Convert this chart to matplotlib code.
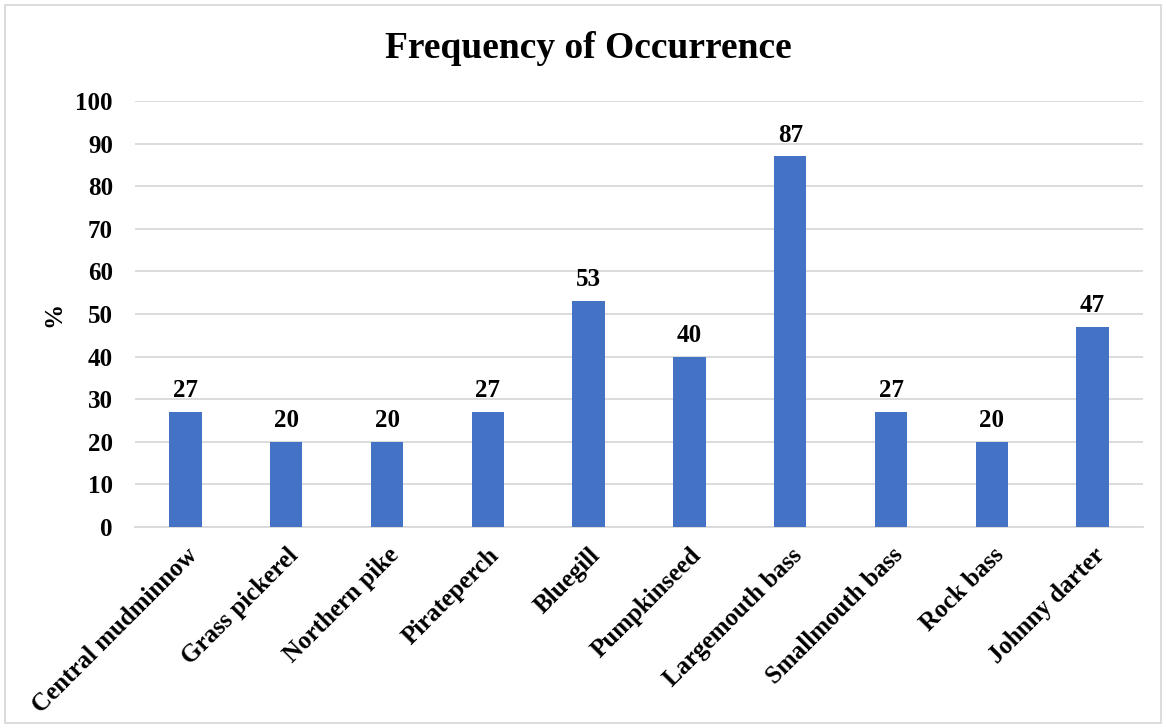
import matplotlib
matplotlib.use("Agg")
import matplotlib.pyplot as plt
from matplotlib.patches import Rectangle

species = ["Central mudminnow", "Grass pickerel", "Northern pike", "Pirateperch",
           "Bluegill", "Pumpkinseed", "Largemouth bass", "Smallmouth bass",
           "Rock bass", "Johnny darter"]
occurrence = [27, 20, 20, 27, 53, 40, 87, 27, 20, 47]
y_ticks = [0, 10, 20, 30, 40, 50, 60, 70, 80, 90, 100]

plt.rcParams["font.family"] = ["Liberation Serif", "DejaVu Serif"]
plt.rcParams["font.weight"] = "bold"

fig = plt.figure(figsize=(11.66, 7.28), dpi=100)
ax = fig.add_axes([135 / 1166, 1 - 527 / 728, (1143 - 135) / 1166, (527 - 101) / 728])

# outer chart border
fig.patches.append(Rectangle((5 / 1166, 5 / 728), 1156 / 1166, 718 / 728,
                             transform=fig.transFigure, fill=False,
                             edgecolor="#D9D9D9", linewidth=1.3))

x = list(range(len(species)))
bars = ax.bar(x, occurrence, width=0.32, color="#4472C4", zorder=3)
for xi, v in zip(x, occurrence):
    ax.annotate(f"{v}", (xi, v), xytext=(0, 7), textcoords="offset points",
                ha="center", va="bottom", fontsize=18, fontweight="bold")

ax.set_xlim(-0.5, len(species) - 0.5)
ax.set_ylim(0, 100)
ax.set_yticks(y_ticks)
ax.set_yticklabels([str(t) for t in y_ticks], fontsize=18, fontweight="bold")
ax.set_xticks(x)
ax.set_xticklabels(species, rotation=45, ha="right", rotation_mode="anchor",
                   fontsize=18, fontweight="bold")
ax.tick_params(axis="both", length=0)
ax.tick_params(axis="y", pad=16)
ax.tick_params(axis="x", pad=12)

ax.grid(axis="y", color="#D9D9D9", linewidth=1.3, zorder=0)
for side in ("top", "right", "left"):
    ax.spines[side].set_visible(False)
ax.spines["bottom"].set_color("#D9D9D9")
ax.spines["bottom"].set_linewidth(1.3)

ax.set_ylabel("%", fontsize=18, fontweight="bold", labelpad=7)
fig.text(588 / 1166, 1 - 48 / 728, "Frequency of Occurrence",
         ha="center", va="center", fontsize=27, fontweight="bold")

fig.savefig("out.png", dpi=100)
